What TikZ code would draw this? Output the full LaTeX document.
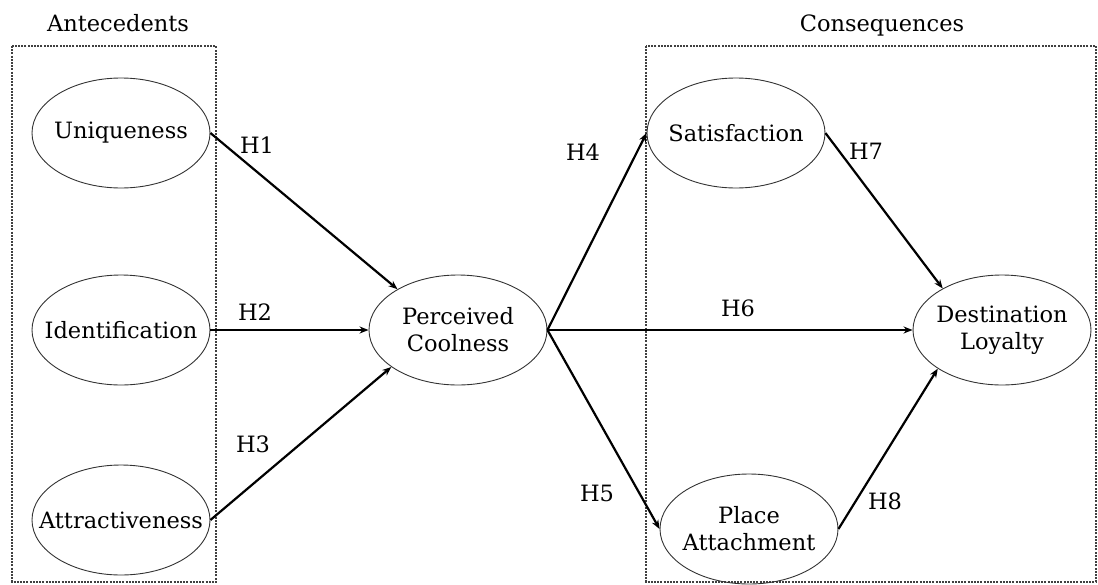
\documentclass[tikz,border=0pt]{standalone}
\usepackage{fontspec}
\setmainfont{DejaVu Serif}
\usetikzlibrary{shapes.geometric,arrows.meta}
\begin{document}
\begin{tikzpicture}[x=1pt,y=-1pt,
  every node/.style={font=\fontsize{22.5}{27}\selectfont},
  construct/.style={ellipse,draw=black!80,line width=0.9pt,minimum width=178pt,minimum height=110pt,inner sep=0pt},
  lbl/.style={align=center,inner sep=0pt},
  groupbox/.style={draw=black!75,line width=1.1pt,dash pattern=on 2pt off 1.2pt},
  path/.style={line width=2.2pt,-{Stealth[length=9pt,width=7pt]}},
  hyp/.style={inner sep=1pt}]
\useasboundingbox (0,0) rectangle (1098,584);
\draw[groupbox] (12,46) rectangle (216,582);
\draw[groupbox] (646,46) rectangle (1096,582);
\node (ant) at (118,23) {Antecedents};
\node (con) at (882,25) {Consequences};
\node[construct,label={[lbl]center:Uniqueness}] (uni) at (121,133) {};
\node[construct,label={[lbl]center:Identification}] (ide) at (121,330) {};
\node[construct,label={[lbl]center:Attractiveness}] (att) at (121,520) {};
\node[construct,label={[lbl]center:Perceived\\Coolness}] (pc) at (458,330) {};
\node[construct,label={[lbl]center:Satisfaction}] (sat) at (736,133) {};
\node[construct,label={[lbl]center:Place\\Attachment}] (pa) at (749,529) {};
\node[construct,label={[lbl]center:Destination\\Loyalty}] (dl) at (1002,330) {};
\draw[path] (uni.east) -- (pc.146);
\draw[path] (ide.east) -- (pc.west);
\draw[path] (att.east) -- (pc.209);
\draw[path] (pc.east) -- (sat.west);
\draw[path] (pc.east) -- (pa.west);
\draw[path] (pc.east) -- (dl.west);
\draw[path] (sat.east) -- (dl.145);
\draw[path] (pa.east) -- (dl.211);
\node[hyp] (h1) at (257,145) {H1};
\node[hyp] (h2) at (255,312) {H2};
\node[hyp] (h3) at (253,444) {H3};
\node[hyp] (h4) at (583,152) {H4};
\node[hyp] (h5) at (597,493) {H5};
\node[hyp] (h6) at (738,308) {H6};
\node[hyp] (h7) at (866,151) {H7};
\node[hyp] (h8) at (885,501) {H8};
\end{tikzpicture}
\end{document}
